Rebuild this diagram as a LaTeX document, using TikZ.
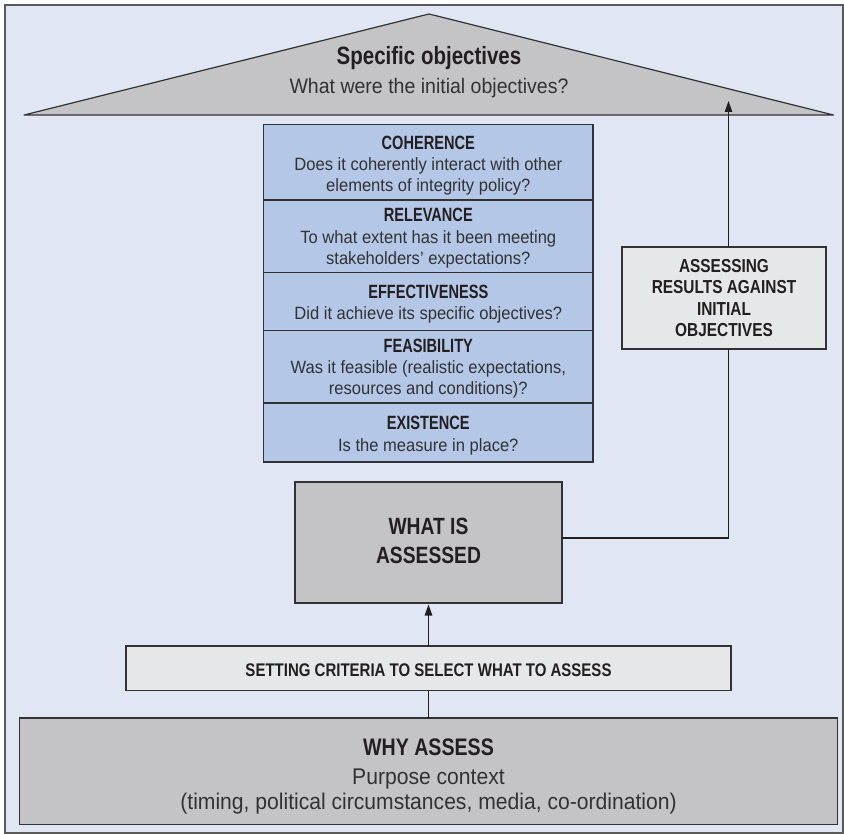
\documentclass[tikz,border=0pt]{standalone}
\usepackage{fontspec}
\usetikzlibrary{arrows.meta}
\newfontfamily\rgfont{Liberation Sans}[FakeStretch=0.93]
\newfontfamily\bdfont{Liberation Sans}[FakeStretch=0.82]
\newfontfamily\tierfont{Liberation Sans}[FakeStretch=0.76]
\definecolor{pagebg}{RGB}{224,230,244}
\definecolor{tier}{RGB}{180,199,231}
\definecolor{greybox}{RGB}{196,196,198}
\definecolor{palebox}{RGB}{230,231,232}
\definecolor{edge}{RGB}{50,50,52}
\definecolor{frameline}{RGB}{90,90,92}
\definecolor{ink}{RGB}{35,31,32}
\definecolor{inksoft}{RGB}{50,50,52}

\begin{document}
\begin{tikzpicture}[x=1pt,y=-1pt,
  box/.style={draw=edge,line width=1.2pt,inner sep=0pt,outer sep=0pt,anchor=north west},
  hd/.style={font=\bdfont\bfseries\fontsize{#1}{#1}\selectfont,text=ink,anchor=base,inner sep=0pt},
  th/.style={font=\tierfont\bfseries\fontsize{#1}{#1}\selectfont,text=ink,anchor=base,inner sep=0pt},
  tx/.style={font=\rgfont\fontsize{#1}{#1}\selectfont,text=inksoft,anchor=base,inner sep=0pt},
  link/.style={draw=ink,line width=1.1pt},
  tip/.style={-{Triangle[length=11pt,width=7.5pt]}}
]
\useasboundingbox (0,0) rectangle (844,834);
% panel
\filldraw[fill=pagebg,draw=frameline,line width=2pt] (4.5,5) rectangle (842.5,832.5);

% roof: specific objectives
\filldraw[fill=greybox,draw=edge,line width=1.2pt,line join=round] (24,115) -- (429,14) -- (833.5,115) -- cycle;
\node[hd=25] (roof-h) at (429,65) {Specific objectives};
\node[tx=21] (roof-a) at (429,93.5) {What were the initial objectives?};

% stack of criteria
\node[box,fill=tier,minimum width=329.5pt,minimum height=75.5pt] (coh) at (263.5,124.5) {};
\node[box,fill=tier,minimum width=329.5pt,minimum height=72.7pt] (rel) at (263.5,200) {};
\node[box,fill=tier,minimum width=329.5pt,minimum height=58pt] (eff) at (263.5,272.7) {};
\node[box,fill=tier,minimum width=329.5pt,minimum height=72.3pt] (fea) at (263.5,330.7) {};
\node[box,fill=tier,minimum width=329.5pt,minimum height=59pt] (exi) at (263.5,403) {};

\node[th=19.2] (coh-h) at (428.3,150) {COHERENCE};
\node[tx=17.8] (coh-a) at (428.3,171) {Does it coherently interact with other};
\node[tx=17.8] (coh-b) at (428.3,192) {elements of integrity policy?};

\node[th=19.2] (rel-h) at (428.3,221.7) {RELEVANCE};
\node[tx=17.8] (rel-a) at (428.3,243.5) {To what extent has it been meeting};
\node[tx=17.8] (rel-b) at (428.3,265) {stakeholders’ expectations?};

\node[th=19.2] (eff-h) at (428.3,298.3) {EFFECTIVENESS};
\node[tx=17.8] (eff-a) at (428.3,319.5) {Did it achieve its specific objectives?};

\node[th=19.2] (fea-h) at (428.3,352.3) {FEASIBILITY};
\node[tx=17.8] (fea-a) at (428.3,373.6) {Was it feasible (realistic expectations,};
\node[tx=17.8] (fea-b) at (428.3,395) {resources and conditions)?};

\node[th=19.2] (exi-h) at (428.3,430) {EXISTENCE};
\node[tx=17.8] (exi-a) at (428.3,451.5) {Is the measure in place?};

% assessing results box
\node[box,fill=palebox,minimum width=204pt,minimum height=102pt] (assess) at (622,247) {};
\node[hd=18.8] (assess-a) at (724,272.5) {ASSESSING};
\node[hd=18.8] (assess-b) at (724,294) {RESULTS AGAINST};
\node[hd=18.8] (assess-c) at (724,315.5) {INITIAL};
\node[hd=18.8] (assess-d) at (724,337) {OBJECTIVES};

% what is assessed
\node[box,fill=greybox,minimum width=267pt,minimum height=121pt] (what) at (295,482) {};
\node[hd=23.5] (what-a) at (428.5,534) {WHAT IS};
\node[hd=23.5] (what-b) at (428.5,563) {ASSESSED};

% setting criteria
\node[box,fill=palebox,minimum width=605pt,minimum height=44.5pt] (crit) at (126,646) {};
\node[hd=18.3] (crit-a) at (428.5,676) {SETTING CRITERIA TO SELECT WHAT TO ASSESS};

% why assess
\node[box,fill=greybox,minimum width=818.4pt,minimum height=106.5pt] (why) at (19.3,718) {};
\node[hd=23.9] (why-a) at (428.5,755.7) {WHY ASSESS};
\node[tx=22.7] (why-b) at (428.5,784) {Purpose context};
\node[tx=22.7] (why-c) at (428.5,809) {(timing, political circumstances, media, co-ordination)};

% connectors
\coordinate (roofmark) at (728.5,101);
\draw[link,tip,shorten >=1.5pt] (crit.north) -- (what.south);
\draw[link] (why.north) -- (crit.south);
\draw[link] ([yshift=4.5pt]what.east) -| ([xshift=4.5pt]assess.south);
\draw[link,tip] ([xshift=4.5pt]assess.north) -- (roofmark);
\end{tikzpicture}
\end{document}
